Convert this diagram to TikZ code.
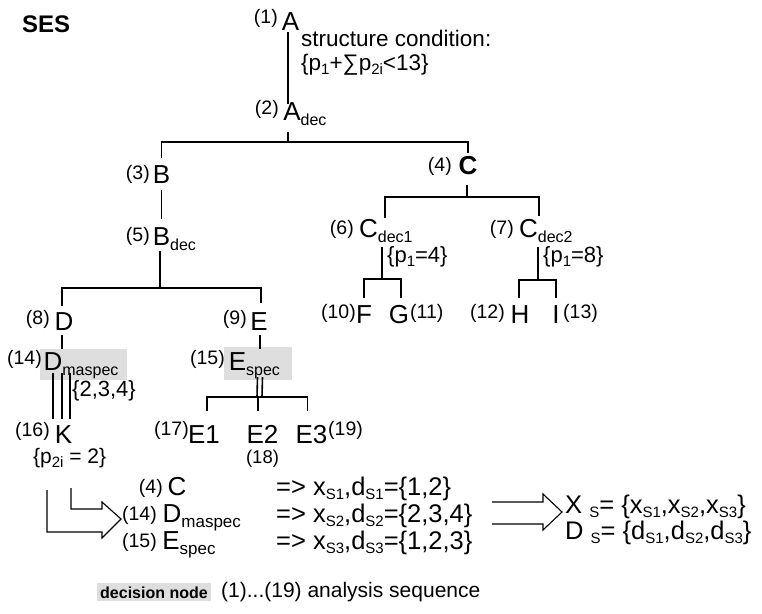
\documentclass[tikz,border=0pt]{standalone}
\usepackage{fontspec}
\setmainfont{Liberation Sans}
\usetikzlibrary{calc}
\newcommand\fLet{\fontsize{26}{30}\selectfont}
\newcommand\fNum{\fontsize{19.5}{22}\selectfont}
\newcommand\fTxt{\fontsize{22.5}{26}\selectfont}
\newcommand\fBig{\fontsize{25.5}{29}\selectfont}
\newcommand\sbL[1]{\raisebox{-5pt}{\fontsize{16}{16}\selectfont #1}}
\newcommand\sbT[1]{\raisebox{-4pt}{\fontsize{15}{15}\selectfont #1}}
\newcommand\sbB[1]{\raisebox{-5pt}{\fontsize{17}{17}\selectfont #1}}
\begin{document}
\begin{tikzpicture}[x=1pt,y=-1pt,
  lt/.style={font=\fLet, inner sep=1pt, anchor=base},
  nm/.style={font=\fNum, inner sep=0pt, anchor=base east},
  nmr/.style={font=\fNum, inner sep=0pt, anchor=base west},
  tx/.style={font=\fTxt, inner sep=0pt, anchor=base west},
  bt/.style={font=\fBig, inner sep=0pt, anchor=base west},
  ln/.style={line width=1.6pt},
  arr/.style={line width=1.1pt, line join=miter},
  decbg/.style={fill=black!13}]
\useasboundingbox (0,0) rectangle (762,613);

% decision node backgrounds
\fill[decbg] (40,349) rectangle (127,380);
\fill[decbg] (224,347) rectangle (292,380);

\node[font=\fontsize{24}{28}\selectfont\bfseries, inner sep=0pt, anchor=base west] (ses) at (22,32) {SES};

% tree nodes
\node[lt] (A) at (290.5,30) {A};
\node[nm] (nA) at (278,23.5) {(1)};
\node[tx] (cond1) at (301,46) {structure condition:};
\node[tx] (cond2) at (301,70) {\{p\sbT{1}+∑p\sbT{2i}<13\}};
\node[lt] (Adec) at (292,120) {A\rlap{\sbL{dec}}};
\node[nm] (nAdec) at (279,114) {(2)};

\node[lt] (B) at (161.5,183) {B};
\node[nm] (nB) at (150,179) {(3)};
\node[lt] (Bdec) at (161.5,245) {B\rlap{\sbL{dec}}};
\node[nm] (nBdec) at (150,241) {(5)};

\node[lt, font=\fLet\bfseries] (C) at (468,174) {C};
\node[nm] (nC) at (452,171) {(4)};
\node[lt] (Cd1) at (368.5,237) {C\rlap{\sbL{dec1}}};
\node[nm] (nCd1) at (354,234) {(6)};
\node[lt] (Cd2) at (528.5,237) {C\rlap{\sbL{dec2}}};
\node[nm] (nCd2) at (514,234) {(7)};
\node[font=\fontsize{22}{26}\selectfont, inner sep=0pt, anchor=base west] (p14) at (387,262) {\{p\sbT{1}=4\}};
\node[font=\fontsize{22}{26}\selectfont, inner sep=0pt, anchor=base west] (p18) at (543,262) {\{p\sbT{1}=8\}};

\node[lt] (F) at (364,323) {F};
\node[nm] (nF) at (356,318) {(10)};
\node[lt] (G) at (399,323) {G};
\node[nmr] (nG) at (410,318) {(11)};
\node[lt] (H) at (520,323) {H};
\node[nm] (nH) at (505,318) {(12)};
\node[lt] (I) at (556,323) {I};
\node[nmr] (nI) at (563,318) {(13)};

\node[lt] (D) at (64,330) {D};
\node[nm] (nD) at (50,324) {(8)};
\node[lt] (E) at (259,330) {E};
\node[nm] (nE) at (247,324) {(9)};
\node[lt] (Dm) at (53,370) {D\rlap{\sbL{maspec}}};
\node[nm] (nDm) at (42,364) {(14)};
\node[lt] (Es) at (237.5,370) {E\rlap{\sbL{spec}}};
\node[nm] (nEs) at (225,364) {(15)};
\node[font=\fontsize{22}{26}\selectfont, inner sep=0pt, anchor=base west] (s234) at (72,396) {\{2,3,4\}};

\node[lt] (K) at (63.5,443) {K};
\node[nm] (nK) at (50,436) {(16)};
\node[font=\fontsize{21}{25}\selectfont, inner sep=0pt, anchor=base west] (p2i) at (33,463) {\{p\sbT{2i} = 2\}};
\node[lt] (E1) at (204,443) {E1};
\node[nm] (nE1) at (189,435) {(17)};
\node[lt] (E2) at (262.5,443) {E2};
\node[font=\fontsize{18.5}{21}\selectfont, inner sep=0pt, anchor=base] (nE2) at (262.5,463) {(18)};
\node[lt] (E3) at (311.5,443) {E3};
\node[nmr] (nE3) at (328,435) {(19)};

% junctions
\coordinate (j0) at (288,142);
\coordinate (j1) at (467,197);
\coordinate (j2) at (160,288);
\coordinate (j3) at (258,397);
\coordinate (j4) at (382,279);
\coordinate (j5) at (538,280);

% connectors
\draw[ln, shorten <=1pt, shorten >=-3pt] (A.south -| j0) -- (Adec.north -| j0);
\draw[ln, shorten <=6pt] (Adec.south -| j0) -- (j0);
\draw[ln, shorten <=6pt, shorten >=2pt] (B.north) |- (j0) -| (C.north);
\draw[ln, shorten <=6pt, shorten >=7pt] (B.south) -- (Bdec.north);
\draw[ln] (Bdec.south -| j2) -- (j2);
\draw[ln, shorten <=5pt, shorten >=8pt] ([xshift=-2pt]D.north) |- (j2) -| ([xshift=2pt]E.north);
\draw[ln, shorten <=4pt, shorten >=2pt] ([xshift=-2pt]D.south) -- ([xshift=-2pt]D.south |- Dm.north);
\draw[ln, shorten <=4pt, shorten >=2pt] ([xshift=1pt]E.south) -- ([xshift=1pt]E.south |- Es.north);
\foreach \dx in {0,9,17}
  \draw[ln] ($(Dm.base)+(\dx,3)$) -- ($(K.north -| Dm.base)+(\dx,-5)$);
\foreach \dx in {20,25}
  \draw[ln] ($(Es.base)+(\dx,7)$) -- ($(j3 |- Es.base)+(\dx-21,27)$);
\draw[ln, shorten >=13pt] (j3) -| ([xshift=3pt]E1.north);
\draw[ln, shorten >=13pt] (j3) -- (j3 |- E2.north);
\draw[ln, shorten >=13pt] (j3) -| ([xshift=-4pt]E3.north);

\draw[ln, shorten <=10pt] (C.south -| j1) -- (j1);
\draw[ln, shorten >=2pt] ([xshift=16.5pt]Cd1.north) |- (j1) -| ([xshift=10.5pt]Cd2.north);
\draw[ln, shorten <=4pt] (Cd1.south -| j4) -- (j4);
\draw[ln, shorten <=6pt, shorten >=6pt] (F.north) |- (j4) -| ([xshift=2pt]G.north);
\draw[ln, shorten <=4pt] (Cd2.south -| j5) -- (j5);
\draw[ln, shorten <=6pt, shorten >=6pt] ([xshift=-1pt]H.north) |- (j5) -| (I.north);

% bottom summary
\node[lt] (bC) at (177,495) {C};
\node[nm] (nbC) at (163,493) {(4)};
\node[lt] (bD) at (172,522) {D\rlap{\sbB{maspec}}};
\node[nm] (nbD) at (157,520) {(14)};
\node[lt] (bE) at (171,549) {E\rlap{\sbB{spec}}};
\node[nm] (nbE) at (157,547) {(15)};
\node[bt] (r1) at (276,495) {=> x\sbT{S1},d\sbT{S1}=\{1,2\}};
\node[bt] (r2) at (276,522) {=> x\sbT{S2},d\sbT{S2}=\{2,3,4\}};
\node[bt] (r3) at (276,549) {=> x\sbT{S3},d\sbT{S3}=\{1,2,3\}};
\node[bt] (XS) at (565,513) {X \sbT{S}= \{x\sbT{S1},x\sbT{S2},x\sbT{S3}\}};
\node[bt] (DS) at (565,539) {D \sbT{S}= \{d\sbT{S1},d\sbT{S2},d\sbT{S3}\}};

% block arrows
\draw[arr] (71,488) -- (71,509) -- (102,509) -- (102,502) -- (121,519)
  -- (102,538) -- (102,532) -- (47,532) -- (47,490);
\draw[arr] (492,502) -- (543,502) -- (543,494) -- (562,512) -- (543,530)
  -- (543,524) -- (492,524);

% legend
\node[font=\fontsize{16}{19}\selectfont\bfseries, decbg, inner sep=3pt, anchor=base west] (leg) at (97,598) {decision node};
\node[font=\fontsize{21}{24}\selectfont, inner sep=0pt, anchor=base west] (seq) at (221,597) {(1)...(19) analysis sequence};
\end{tikzpicture}
\end{document}
